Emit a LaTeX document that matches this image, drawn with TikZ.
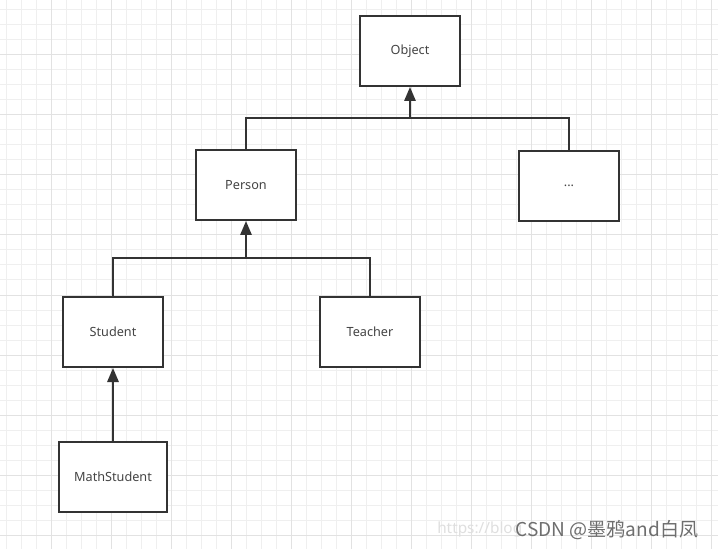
\documentclass[tikz,border=0pt]{standalone}
\usepackage{fontspec}
\setmainfont{Noto Sans}
\newfontfamily\cjkfont{Noto Sans CJK SC}
\usetikzlibrary{arrows.meta,positioning}
\definecolor{minorgrid}{HTML}{EFEFEF}
\definecolor{majorgrid}{HTML}{E2E2E2}
\definecolor{edgegray}{HTML}{333333}
\definecolor{labelgray}{HTML}{444444}
\definecolor{markgray}{HTML}{6E6E6E}

\begin{document}
\begin{tikzpicture}[
  x=0.75pt, y=-0.75pt,
  font=\fontsize{9.5}{11}\selectfont,
  cls/.style={draw=edgegray, line width=1.5pt, fill=white, text=labelgray,
    minimum width=75pt, minimum height=52.5pt, inner sep=0pt},
  link/.style={draw=edgegray, line width=1.5pt},
  arr/.style={-{Triangle[length=10.5pt, width=8.5pt]}, draw=edgegray,
    fill=edgegray, line width=1.5pt},
  minor/.style={draw=minorgrid, line width=0.75pt},
  major/.style={draw=majorgrid, line width=0.75pt}
]
\useasboundingbox (0,0) rectangle (718,549);
\fill[white] (0,0) rectangle (718,549);

% background grid
\foreach \gx in {6,21,...,711} \draw[minor] (\gx,0) -- (\gx,549);
\foreach \gy in {10,25,...,545} \draw[minor] (0,\gy) -- (718,\gy);
\foreach \gx in {51,111,...,711} \draw[major] (\gx,0) -- (\gx,549);
\foreach \gy in {55,115,...,545} \draw[major] (0,\gy) -- (718,\gy);

% classes
\node[cls] (object) at (410,51) {Object};
\node[cls] (person) at (246,185) {Person};
\node[cls] (dots) at (569,186) {...};
\node[cls] (student) at (113,332) {Student};
\node[cls] (teacher) at (370,332) {Teacher};
\node[cls, minimum width=81pt] (math) at (113,476.5) {MathStudent};

% inheritance
\coordinate (top) at (410,118);
\coordinate (mid) at (246,258);
\draw[link] (person.north) |- (top) -| (dots.north);
\draw[arr] (top) -- (object.south);
\draw[link] (student.north) |- (mid) -| (teacher.north);
\draw[arr] (mid) -- (person.south);
\draw[arr] (math.north) -- (student.south);

% watermark
\node[anchor=west, inner sep=0pt, text=gray!25,
  font=\fontsize{11.5}{13}\selectfont] (url) at (437,530) {https://blog};
\node[anchor=west, inner sep=1pt, text=markgray,
  font=\cjkfont\fontsize{14.3}{16}\selectfont] (mark) at (514,530)
  {CSDN @墨鸦and白凤};
\end{tikzpicture}
\end{document}
